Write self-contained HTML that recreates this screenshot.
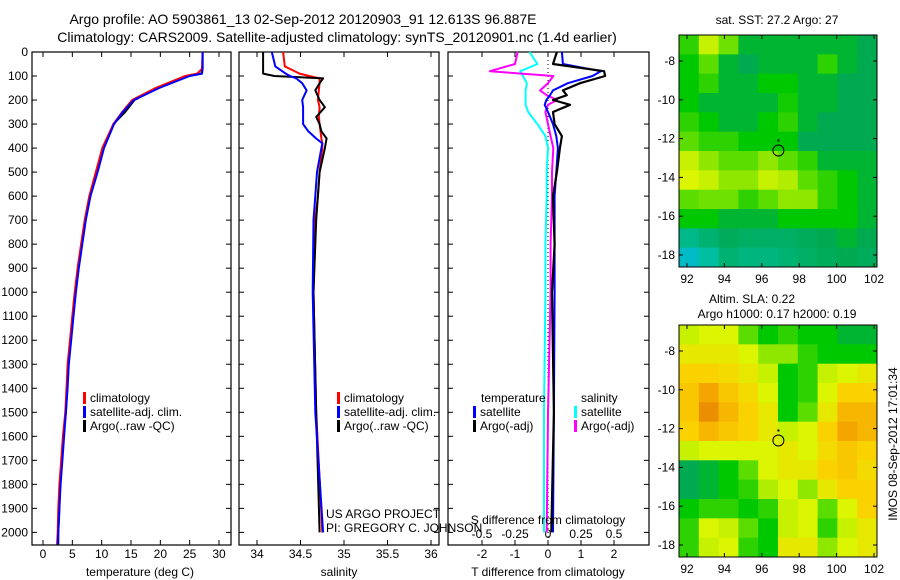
<!DOCTYPE html>
<html><head><meta charset="utf-8"><style>
body{margin:0;background:#fff}
svg{display:block;font-family:"Liberation Sans",sans-serif}
text{fill:#000}
</style></head><body>
<svg id="s" width="900" height="580" viewBox="0 0 900 580" xmlns="http://www.w3.org/2000/svg">
<text x="303" y="24" font-size="14" text-anchor="middle">Argo profile: AO 5903861_13 02-Sep-2012 20120903_91 12.613S 96.887E</text>
<text x="337" y="42" font-size="14" text-anchor="middle">Climatology: CARS2009. Satellite-adjusted climatology: synTS_20120901.nc (1.4d earlier)</text>
<g id="g"></g>
</svg>
<script>
// ---------- data ----------
const depthTicks=[0,100,200,300,400,500,600,700,800,900,1000,1100,1200,1300,1400,1500,1600,1700,1800,1900,2000];
const tempTicks=[0,5,10,15,20,25,30];
const salTicks=[34,34.5,35,35.5,36];
const tdTicks=[-2,-1,0,1,2];
const sdTicks=[-0.5,-0.25,0,0.25,0.5];
const sdTickLabels=['-0.5','-0.25','0','0.25','0.5'];
const lonTicks=[92,94,96,98,100,102];
const latTicks=[-8,-10,-12,-14,-16,-18];

const tDepth=[0,70,90,100,150,200,250,300,400,500,600,700,800,900,1000,1100,1200,1300,1400,1500,1600,1700,1800,1900,2000,2050];
const tempClim=[27.2,27.1,26.3,24.2,19.2,15.2,13.5,12.0,10.1,9.0,7.9,7.1,6.5,5.9,5.4,5.0,4.6,4.2,4.0,3.8,3.4,3.1,2.8,2.6,2.5,2.4];
const tempSat=[27.2,27.2,27.1,25.0,19.8,15.5,13.6,12.1,10.4,9.3,8.1,7.3,6.7,6.1,5.6,5.2,4.8,4.4,4.2,3.9,3.6,3.3,3.0,2.8,2.6,2.5];
const tempArgo=[27.2,27.2,27.0,24.7,19.6,15.6,14.0,12.0,10.3,9.2,8.0,7.2,6.6,6.0,5.5,5.1,4.7,4.3,4.1,3.9,3.5,3.2,2.9,2.8,2.6,2.6];

const sDepth=[0,60,90,100,110,130,160,200,230,270,300,330,360,380,400,500,600,700,1000,1500,2000];
const salClim=[34.30,34.32,34.49,34.60,34.72,34.72,34.71,34.70,34.72,34.71,34.72,34.73,34.74,34.75,34.75,34.72,34.70,34.67,34.65,34.68,34.75];
const salSat=[34.17,34.21,34.33,34.38,34.45,34.52,34.57,34.52,34.53,34.53,34.53,34.59,34.68,34.75,34.74,34.69,34.67,34.65,34.64,34.67,34.76];
const salArgo=[34.07,34.07,34.07,34.20,34.76,34.72,34.67,34.72,34.78,34.68,34.72,34.74,34.80,34.79,34.78,34.72,34.70,34.68,34.65,34.68,34.72];

const dDepth=[0,50,80,100,130,160,180,200,220,250,300,350,400,500,600,800,1000,1500,2000];
const tdSat=[0.42,0.45,1.6,1.35,0.6,0.15,0.06,-0.05,-0.1,0.0,0.15,0.25,0.3,0.25,0.2,0.2,0.2,0.18,0.15];
const tdArgo=[0.27,0.15,1.7,1.73,0.97,0.45,0.57,0.15,0.67,0.15,0.2,0.42,0.36,0.27,0.15,0.2,0.12,0.18,0.1];
const sdArgo=[-0.23,-0.25,-0.44,0.04,0.0,-0.06,-0.01,0.07,0.0,-0.02,0.0,0.02,0.04,0.03,0.03,0.02,0.02,0.0,-0.01];
const sdSat=[-0.14,-0.08,-0.21,-0.19,-0.16,-0.17,-0.17,-0.17,-0.17,-0.15,-0.08,-0.02,0.0,-0.01,-0.01,-0.02,-0.02,-0.03,-0.03];

const sstGrid=[
[0.55,0.7,0.62,0.45,0.45,0.45,0.45,0.45,0.45,0.42],
[0.5,0.6,0.45,0.42,0.45,0.45,0.45,0.55,0.45,0.42],
[0.5,0.55,0.45,0.45,0.5,0.5,0.45,0.45,0.42,0.42],
[0.5,0.45,0.45,0.45,0.45,0.52,0.45,0.45,0.42,0.42],
[0.55,0.5,0.45,0.45,0.5,0.55,0.45,0.42,0.42,0.42],
[0.6,0.55,0.55,0.5,0.5,0.5,0.42,0.42,0.42,0.42],
[0.7,0.65,0.6,0.6,0.65,0.6,0.55,0.45,0.45,0.45],
[0.72,0.7,0.65,0.65,0.7,0.68,0.6,0.55,0.5,0.45],
[0.6,0.62,0.62,0.55,0.6,0.65,0.65,0.55,0.5,0.45],
[0.5,0.5,0.45,0.45,0.45,0.5,0.5,0.5,0.5,0.45],
[0.3,0.35,0.4,0.38,0.38,0.38,0.4,0.42,0.45,0.42],
[0.15,0.25,0.35,0.32,0.32,0.35,0.38,0.4,0.42,0.4]];
const slaGrid=[
[0.7,0.72,0.72,0.6,0.5,0.55,0.5,0.5,0.45,0.45],
[0.75,0.75,0.75,0.72,0.65,0.65,0.55,0.5,0.5,0.5],
[0.8,0.8,0.78,0.75,0.7,0.5,0.55,0.7,0.72,0.75],
[0.82,0.88,0.82,0.78,0.72,0.5,0.55,0.72,0.8,0.8],
[0.82,0.93,0.85,0.8,0.75,0.5,0.6,0.75,0.85,0.85],
[0.8,0.85,0.82,0.8,0.75,0.7,0.72,0.8,0.88,0.85],
[0.7,0.72,0.72,0.72,0.72,0.75,0.72,0.78,0.82,0.8],
[0.42,0.45,0.5,0.6,0.72,0.75,0.75,0.8,0.82,0.78],
[0.42,0.45,0.5,0.55,0.68,0.72,0.65,0.75,0.8,0.8],
[0.5,0.55,0.55,0.5,0.55,0.7,0.72,0.6,0.72,0.8],
[0.55,0.72,0.7,0.6,0.5,0.7,0.72,0.55,0.7,0.75],
[0.55,0.7,0.72,0.55,0.5,0.75,0.75,0.65,0.72,0.75]];
const argoLon=96.887, argoLat=-12.613;

// ---------- drawing ----------
const NS='http://www.w3.org/2000/svg';
const G=document.getElementById('g');
function mk(tag,attrs,parent){const e=document.createElementNS(NS,tag);for(const k in attrs)e.setAttribute(k,attrs[k]);(parent||G).appendChild(e);return e;}
function txt(x,y,s,size,anchor,parent){const t=mk('text',{x:x,y:y,'font-size':size||12,'text-anchor':anchor||'middle'},parent);t.textContent=s;return t;}
const TOP=52,BOT=545;
const yD=d=>TOP+d*0.2402;
const xT=v=>43+v*5.867;
const xS=v=>257+(v-34)*87;
const xTD=v=>548+v*33;
const xSD=v=>548+v*132;

function panel(x0,x1,name){
  const r=mk('rect',{x:x0,y:TOP,width:x1-x0,height:BOT-TOP,fill:'none',stroke:'#000','stroke-width':1.2});
  
  
  depthTicks.forEach(d=>{mk('line',{x1:x0,x2:x0+5,y1:yD(d),y2:yD(d),stroke:'#000'});mk('line',{x1:x1,x2:x1-5,y1:yD(d),y2:yD(d),stroke:'#000'});});
}
function series(depths,vals,xf,color,w,name){
  const pts=depths.map((d,i)=>xf(vals[i]).toFixed(1)+','+yD(d).toFixed(1)).join(' ');
  const p=mk('polyline',{points:pts,fill:'none',stroke:color,'stroke-width':w,'stroke-linejoin':'round'});
  
  
}
// panel 1
panel(32,231,'temperature-panel');
depthTicks.forEach(d=>{const t=txt(28,yD(d)+4,String(d),12,'end');});
tempTicks.forEach(v=>{mk('line',{x1:xT(v),x2:xT(v),y1:BOT,y2:BOT-5,stroke:'#000'});mk('line',{x1:xT(v),x2:xT(v),y1:TOP,y2:TOP+5,stroke:'#000'});
  const t=txt(xT(v),558,String(v));});
txt(140,576,'temperature (deg C)');
series(tDepth,tempArgo,xT,'#000',2,'temp-argo-line');
series(tDepth,tempClim,xT,'#f00',2,'temp-climatology-line');
series(tDepth,tempSat,xT,'#00f',2,'temp-satellite-line');
// panel 2
panel(239,439,'salinity-panel');
salTicks.forEach(v=>{mk('line',{x1:xS(v),x2:xS(v),y1:BOT,y2:BOT-5,stroke:'#000'});mk('line',{x1:xS(v),x2:xS(v),y1:TOP,y2:TOP+5,stroke:'#000'});
  const t=txt(xS(v),558,String(v));});
txt(339,576,'salinity');
series(sDepth,salClim,xS,'#f00',2,'sal-climatology-line');
series(sDepth,salArgo,xS,'#000',2,'sal-argo-line');
series(sDepth,salSat,xS,'#00f',2,'sal-satellite-line');
// panel 3
panel(448,649,'difference-panel');
mk('line',{x1:548,x2:548,y1:TOP,y2:BOT,stroke:'#000','stroke-dasharray':'1,3'});
tdTicks.forEach(v=>{mk('line',{x1:xTD(v),x2:xTD(v),y1:BOT,y2:BOT-5,stroke:'#000'});mk('line',{x1:xTD(v),x2:xTD(v),y1:TOP,y2:TOP+5,stroke:'#000'});
  const t=txt(xTD(v),558,String(v));});
sdTicks.forEach((v,i)=>{const t=txt(xSD(v),538,sdTickLabels[i]);});
series(dDepth,sdSat,xSD,'#0ff',2,'sdiff-satellite-line');
series(dDepth,sdArgo,xSD,'#f0f',2,'sdiff-argo-line');
series(dDepth,tdSat,xTD,'#00f',2,'tdiff-satellite-line');
series(dDepth,tdArgo,xTD,'#000',2.2,'tdiff-argo-line');
txt(548,524,'S difference from climatology');
txt(548,576,'T difference from climatology');
// legends
function leg(x,y,color,label,name){const g=mk('g',{});
  mk('rect',{x:x,y:y-10,width:3,height:12,fill:color},g);txt(x+7,y,label,12,'start',g);}
leg(83,402,'#f00','climatology','legend-climatology');
leg(83,416,'#00f','satellite-adj. clim.','legend-satellite');
leg(83,430,'#000','Argo(..raw -QC)','legend-argo');
leg(337,402,'#f00','climatology','legend2-climatology');
leg(337,416,'#00f','satellite-adj. clim.','legend2-satellite');
leg(337,430,'#000','Argo(..raw -QC)','legend2-argo');
txt(481,402,'temperature',12,'start');txt(581,402,'salinity',12,'start');
leg(473,416,'#00f','satellite','legend-tdiff-satellite');
leg(473,430,'#000','Argo(-adj)','legend-tdiff-argo');
leg(574,416,'#0ff','satellite','legend-sdiff-satellite');
leg(574,430,'#f0f','Argo(-adj)','legend-sdiff-argo');
txt(326,518,'US ARGO PROJECT',12,'start');
txt(326,532,'PI: GREGORY C. JOHNSON',12,'start');

// maps
const stops=[[0,[0,180,255]],[0.25,[0,190,160]],[0.42,[0,170,80]],[0.5,[0,200,0]],[0.62,[110,225,0]],[0.72,[220,245,0]],[0.8,[250,210,0]],[0.88,[245,165,0]],[1,[220,110,0]]];
function cmap(v){for(let i=1;i<stops.length;i++){if(v<=stops[i][0]){const a=stops[i-1],b=stops[i],t=(v-a[0])/(b[0]-a[0]);return 'rgb('+a[1].map((c,k)=>Math.round(c+(b[1][k]-c)*t)).join(',')+')';}}return 'rgb(220,110,0)';}
function map(y0,grid,name){
  const X0=679,X1=877,H=232;
  const lonX=l=>687+(l-92)*18.7;
  const latY=l=>y0+26+(-8-l)*19.4;
  const g=mk('g',{});
  const rows=grid.length,cols=grid[0].length,cw=(X1-X0)/cols,ch=H/rows;
  grid.forEach((row,r)=>row.forEach((v,c)=>{const cell=mk('rect',{x:X0+c*cw,y:y0+r*ch,width:cw+0.5,height:ch+0.5,fill:cmap(v)},g);
    
    }));
  mk('rect',{x:X0,y:y0,width:X1-X0,height:H,fill:'none',stroke:'#000'},g);
  lonTicks.forEach(l=>{mk('line',{x1:lonX(l),x2:lonX(l),y1:y0+H,y2:y0+H-4,stroke:'#000'},g);mk('line',{x1:lonX(l),x2:lonX(l),y1:y0,y2:y0+4,stroke:'#000'},g);txt(lonX(l),y0+H+16,String(l),12,'middle',g);});
  latTicks.forEach(l=>{mk('line',{x1:X0,x2:X0+4,y1:latY(l),y2:latY(l),stroke:'#000'},g);mk('line',{x1:X1,x2:X1-4,y1:latY(l),y2:latY(l),stroke:'#000'},g);txt(675,latY(l)+4,String(l),12,'end',g);});
  const c=mk('circle',{cx:lonX(argoLon),cy:latY(argoLat),r:5.5,fill:'none',stroke:'#000'},g);
  
  
  mk('rect',{x:lonX(argoLon)-1,y:latY(argoLat)-11,width:2,height:2,fill:'#000'},g);
}
map(35,sstGrid,'sst-map');
map(325,slaGrid,'sla-map');
txt(777,24,'sat. SST: 27.2 Argo: 27');
txt(752,303,'Altim. SLA: 0.22');
txt(777,318,'Argo h1000: 0.17 h2000: 0.19');
const v=txt(0,0,'IMOS 08-Sep-2012 17:01:34',12,'middle');
v.setAttribute('transform','translate(897,444) rotate(-90)');


</script>
</body></html>
